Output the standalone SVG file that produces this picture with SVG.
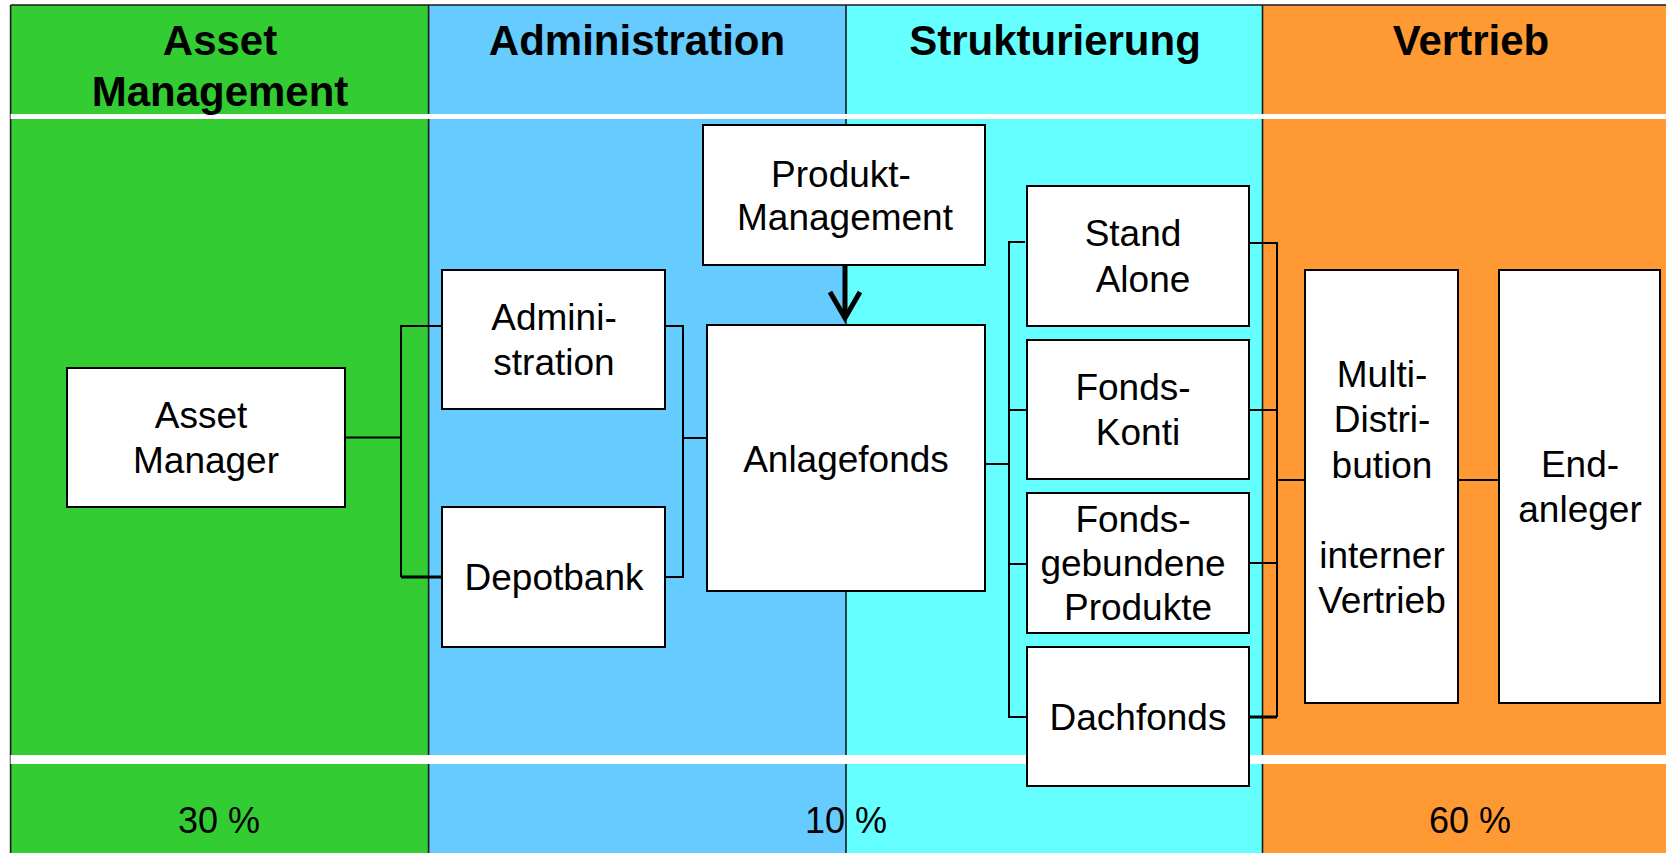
<svg xmlns="http://www.w3.org/2000/svg" width="1666" height="853" viewBox="0 0 1666 853">
<style>
.col{stroke:none}
.div{stroke:#1a1a1a;stroke-width:1.6;fill:none}
.band{fill:#ffffff}
.hdr{font-family:"Liberation Sans",Arial,sans-serif;font-weight:bold;font-size:42px;fill:#000;text-anchor:middle}
.pct{font-family:"Liberation Sans",Arial,sans-serif;font-size:36px;fill:#000;text-anchor:middle}
.box{fill:#ffffff;stroke:#000;stroke-width:2}
.lbl{font-family:"Liberation Sans",Arial,sans-serif;font-size:37px;fill:#000;text-anchor:middle}
.con{stroke:#000;stroke-width:2;fill:none}
.thick{stroke-width:3}
.arrow{stroke:#000;stroke-width:5;fill:none}
</style>
<defs>
<marker id="chev" markerUnits="userSpaceOnUse" markerWidth="40" markerHeight="40" refX="0" refY="0" orient="auto" overflow="visible">
<path d="M -26 -15 L 0 0 L -26 15" stroke="#000" stroke-width="5" fill="none" stroke-linejoin="miter"/>
</marker>
</defs>
<rect x="0" y="0" width="1666" height="853" fill="#ffffff"/>
<g id="columns">
<rect class="col" x="10.6" y="5" width="418" height="848" fill="#33CC33"/>
<rect class="col" x="428.6" y="5" width="417.4" height="848" fill="#66CCFF"/>
<rect class="col" x="846" y="5" width="416" height="848" fill="#66FFFF"/>
<rect class="col" x="1262" y="5" width="404" height="848" fill="#FF9933"/>
<line class="div" x1="10.6" y1="5" x2="1666" y2="5"/>
<line class="div" x1="10.6" y1="5" x2="10.6" y2="853"/>
<line class="div" x1="428.6" y1="5" x2="428.6" y2="853"/>
<line class="div" x1="846" y1="5" x2="846" y2="853"/>
<line class="div" x1="1262.5" y1="5" x2="1262.5" y2="853"/>
<rect class="band" x="10.6" y="114" width="1656" height="5"/>
<rect class="band" x="10.6" y="755" width="1656" height="9"/>
</g>
<g id="headers">
<text class="hdr" x="220" y="55">Asset</text>
<text class="hdr" x="220" y="106">Management</text>
<text class="hdr" x="637" y="55">Administration</text>
<text class="hdr" x="1055" y="55">Strukturierung</text>
<text class="hdr" x="1471" y="55">Vertrieb</text>
</g>
<g id="percentages">
<text class="pct" x="219" y="833">30 %</text>
<text class="pct" x="846" y="833">10 %</text>
<text class="pct" x="1470" y="833">60 %</text>
</g>
<g id="connectors">
<polyline class="con" points="345,437.5 401,437.5"/>
<polyline class="con" points="442,326 401,326 401,577"/>
<line class="con thick" x1="401" y1="577" x2="442" y2="577"/>
<polyline class="con" points="665,326 683,326 683,577 665,577"/>
<line class="con" x1="683" y1="438" x2="707" y2="438"/>
<line class="con" x1="985" y1="464" x2="1009" y2="464"/>
<polyline class="con" points="1025,242 1009,242 1009,717 1027,717"/>
<line class="con" x1="1009" y1="410" x2="1027" y2="410"/>
<line class="con" x1="1009" y1="564" x2="1027" y2="564"/>
<polyline class="con" points="1249,243 1277,243 1277,717"/>
<line class="con" x1="1249" y1="410" x2="1277" y2="410"/>
<line class="con" x1="1249" y1="563" x2="1277" y2="563"/>
<line class="con thick" x1="1249" y1="717" x2="1277" y2="717"/>
<line class="con" x1="1277" y1="480" x2="1305" y2="480"/>
<line class="con" x1="1458" y1="480" x2="1499" y2="480"/>
<line class="arrow" x1="845" y1="265" x2="845" y2="318" marker-end="url(#chev)"/>
</g>
<g id="node-asset-manager">
<rect class="box" x="67" y="368" width="278" height="139"/>
<text class="lbl" x="201" y="428">Asset</text>
<text class="lbl" x="206" y="473">Manager</text>
</g>
<g id="node-administration">
<rect class="box" x="442" y="270" width="223" height="139"/>
<text class="lbl" x="554" y="330">Admini-</text>
<text class="lbl" x="554" y="375">stration</text>
</g>
<g id="node-depotbank">
<rect class="box" x="442" y="507" width="223" height="140"/>
<text class="lbl" x="554" y="590">Depotbank</text>
</g>
<g id="node-produkt-management">
<rect class="box" x="703" y="125" width="282" height="140"/>
<text class="lbl" x="841" y="187">Produkt-</text>
<text class="lbl" x="845" y="230">Management</text>
</g>
<g id="node-anlagefonds">
<rect class="box" x="707" y="325" width="278" height="266"/>
<text class="lbl" x="846" y="472">Anlagefonds</text>
</g>
<g id="node-stand-alone">
<rect class="box" x="1027" y="186" width="222" height="140"/>
<text class="lbl" x="1133" y="246">Stand</text>
<text class="lbl" x="1143" y="292">Alone</text>
</g>
<g id="node-fonds-konti">
<rect class="box" x="1027" y="340" width="222" height="139"/>
<text class="lbl" x="1133" y="400">Fonds-</text>
<text class="lbl" x="1138" y="445">Konti</text>
</g>
<g id="node-fondsgebundene">
<rect class="box" x="1027" y="493" width="222" height="140"/>
<text class="lbl" x="1133" y="532">Fonds-</text>
<text class="lbl" x="1133" y="576">gebundene</text>
<text class="lbl" x="1138" y="620">Produkte</text>
</g>
<g id="node-dachfonds">
<rect class="box" x="1027" y="647" width="222" height="139"/>
<text class="lbl" x="1138" y="730">Dachfonds</text>
</g>
<g id="node-multi-distribution">
<rect class="box" x="1305" y="270" width="153" height="433"/>
<text class="lbl" x="1382" y="387">Multi-</text>
<text class="lbl" x="1382" y="432">Distri-</text>
<text class="lbl" x="1382" y="478">bution</text>
<text class="lbl" x="1382" y="568">interner</text>
<text class="lbl" x="1382" y="613">Vertrieb</text>
</g>
<g id="node-endanleger">
<rect class="box" x="1499" y="270" width="161" height="433"/>
<text class="lbl" x="1580" y="477">End-</text>
<text class="lbl" x="1580" y="522">anleger</text>
</g>
</svg>
